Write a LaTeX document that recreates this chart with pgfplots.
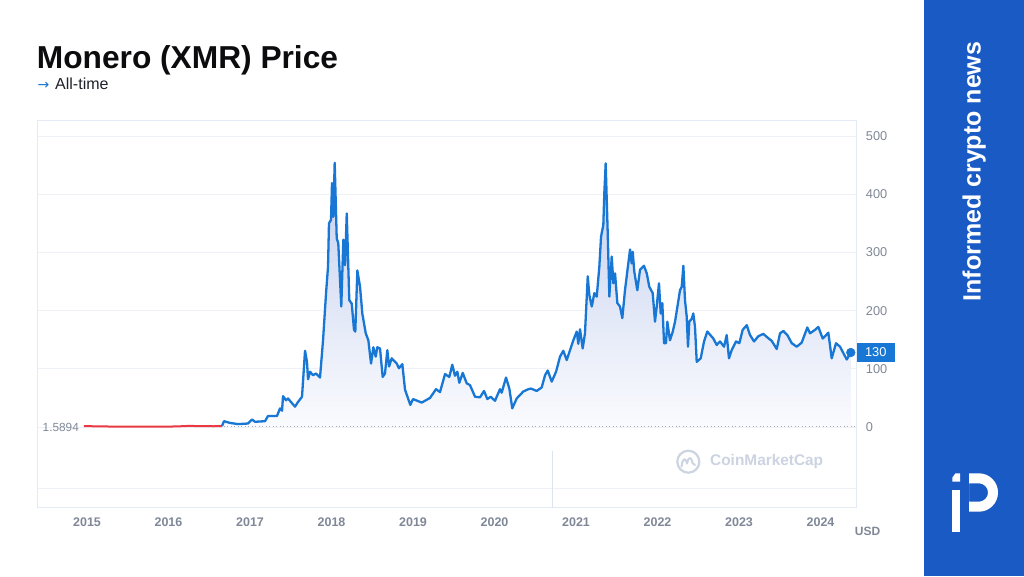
\documentclass[border=0pt]{standalone}
\usepackage{pgfplots}
\pgfplotsset{compat=1.18}
\usepackage{pgfplotstable}
\usepackage{fontspec}
\setmainfont{Liberation Sans}
\newfontfamily\dejavu{DejaVu Sans}
\definecolor{cmcblue}{RGB}{24,119,212}
\definecolor{cmcred}{RGB}{234,57,67}
\definecolor{panelblue}{RGB}{26,90,196}
\definecolor{tickgray}{RGB}{128,136,152}
\definecolor{gridc}{RGB}{238,241,246}
\definecolor{boxc}{RGB}{228,234,243}
\definecolor{wm}{RGB}{204,211,225}
\definecolor{dotc}{RGB}{165,171,184}
\pgfplotstableread{
x y
2014.963 1.59
2015.100 1.2
2015.300 0.8
2015.600 0.6
2015.900 0.5
2016.100 1.0
2016.250 1.9
2016.400 1.5
2016.550 1.3
2016.656 1.6
}\xmrred
\pgfplotstableread{
x y
2016.656 1.6
2016.681 10
2016.755 7
2016.853 5
2016.975 6
2017.025 13
2017.061 9
2017.184 10
2017.221 19
2017.331 19
2017.368 32
2017.393 28
2017.405 53
2017.442 46
2017.466 49
2017.552 35
2017.589 43
2017.638 52
2017.675 131
2017.699 112
2017.712 82
2017.736 95
2017.773 89
2017.810 92
2017.859 85
2017.896 149
2017.933 230
2017.957 275
2017.969 350
2017.994 356
2018.006 419
2018.022 361
2018.039 454
2018.064 324
2018.083 316
2018.120 207
2018.145 322
2018.166 278
2018.187 367
2018.218 218
2018.248 212
2018.276 167
2018.292 164
2018.317 269
2018.350 241
2018.378 195
2018.420 161
2018.452 149
2018.485 109
2018.513 137
2018.542 121
2018.562 137
2018.595 135
2018.628 86
2018.656 92
2018.685 132
2018.706 104
2018.739 118
2018.800 109
2018.828 101
2018.869 108
2018.902 64
2018.967 38
2019.000 48
2019.107 42
2019.209 50
2019.282 65
2019.331 60
2019.393 91
2019.445 86
2019.482 107
2019.515 88
2019.544 95
2019.568 76
2019.610 93
2019.659 75
2019.699 72
2019.761 52
2019.822 51
2019.871 62
2019.912 48
2019.953 52
2020.006 45
2020.067 65
2020.088 59
2020.141 85
2020.182 66
2020.218 32
2020.272 49
2020.353 61
2020.415 65
2020.448 66
2020.518 62
2020.579 68
2020.620 89
2020.653 97
2020.702 78
2020.755 95
2020.804 121
2020.844 131
2020.886 115
2020.967 149
2021.009 164
2021.028 143
2021.049 168
2021.082 135
2021.110 161
2021.144 259
2021.163 227
2021.193 207
2021.225 230
2021.254 224
2021.286 275
2021.307 327
2021.335 347
2021.347 401
2021.364 453
2021.389 333
2021.409 224
2021.438 293
2021.458 247
2021.479 264
2021.507 213
2021.540 207
2021.568 187
2021.601 235
2021.629 267
2021.663 305
2021.683 281
2021.696 301
2021.715 267
2021.752 235
2021.785 270
2021.834 277
2021.868 264
2021.899 241
2021.941 230
2021.969 181
2021.990 207
2022.018 247
2022.039 195
2022.059 213
2022.080 144
2022.104 144
2022.120 181
2022.153 149
2022.187 164
2022.215 181
2022.276 235
2022.297 241
2022.317 277
2022.337 218
2022.358 190
2022.374 138
2022.390 181
2022.420 186
2022.439 195
2022.460 172
2022.481 112
2022.530 118
2022.571 147
2022.611 164
2022.685 152
2022.726 141
2022.767 147
2022.816 138
2022.849 158
2022.877 118
2022.910 132
2022.963 147
2023.004 144
2023.045 167
2023.095 175
2023.135 158
2023.184 147
2023.237 156
2023.298 160
2023.347 154
2023.401 148
2023.463 134
2023.503 161
2023.544 165
2023.593 158
2023.647 144
2023.708 138
2023.769 145
2023.838 171
2023.871 161
2023.933 167
2023.973 172
2024.027 152
2024.096 162
2024.137 118
2024.190 144
2024.239 138
2024.280 127
2024.322 116
2024.371 128
}\xmrblue
\begin{document}
\begin{tikzpicture}[x=1pt,y=1pt]
\useasboundingbox (0,0) rectangle (1024,576);
\fill[white] (0,0) rectangle (1024,576);
\fill[panelblue] (924,0) rectangle (1024,576);
% title
\node[anchor=base west, inner sep=0pt, font=\fontsize{31.7}{36}\selectfont\bfseries, text={rgb,255:red,12;green,12;blue,14}] at (36.7,507.7) {Monero (XMR) Price};
\node[anchor=base west, inner sep=0pt, font=\dejavu\fontsize{14}{16}\selectfont, text=cmcblue] at (37.5,486) {→};
\node[anchor=base west, inner sep=0pt, font=\fontsize{16}{18}\selectfont, text={rgb,255:red,32;green,34;blue,42}] at (55,486) {All-time};
% watermark
\draw[wm, line width=2.2pt] (688.3,114.3) circle (11);
\draw[wm, line width=2pt, line cap=round, line join=round] (681.5,109.5) .. controls (682.5,117) and (685,120) .. (687,112.5) .. controls (688.5,119.5) and (691,120) .. (692.5,113) -- (695,111);
\node[anchor=west, inner sep=0pt, font=\fontsize{15.4}{17}\selectfont\bfseries, text=wm] at (710,114.3) {CoinMarketCap};
\begin{axis}[
  at={(37.7pt,68.5pt)}, anchor=south west,
  scale only axis, width=819pt, height=387.5pt,
  xmin=2014.395, xmax=2024.444, ymin=-138.3, ymax=527.5,
  axis line style={draw=boxc, line width=0.8pt},
  xtick={2015,2016,...,2024}, ytick={0,100,...,500},
  major tick length=0pt,
  ymajorgrids, grid style={draw=gridc, line width=0.8pt},
  yticklabel pos=right,
  /pgf/number format/assume math mode=true,
  /pgf/number format/1000 sep={},
  xticklabel style={font=\fontsize{12.5}{14}\selectfont\bfseries, text=tickgray, anchor=north, inner sep=0pt, yshift=-10.5pt},
  yticklabel style={font=\fontsize{12.8}{14}\selectfont, text=tickgray, anchor=west, inner sep=0pt, xshift=9pt},
  clip=false,
]
\draw[gridc, line width=0.8pt] (axis cs:2014.395,-105) -- (axis cs:2024.444,-105);
\draw[draw={rgb,255:red,220;green,228;blue,239}, line width=0.8pt] (axis cs:2020.714,-42) -- (axis cs:2020.714,-138.3);
\addplot[draw=none, top color={rgb,255:red,196;green,207;blue,238}, bottom color={rgb,255:red,250;green,251;blue,254}] table {\xmrblue} \closedcycle;
\addplot[dotc, line width=0.9pt, dash pattern=on 0.9pt off 2.6pt] coordinates {(2014.963,1.59) (2024.42,1.59)};
\addplot[cmcred, line width=2pt] table {\xmrred};
\addplot[cmcblue, line width=2.3pt, line join=round] table {\xmrblue};
\addplot[only marks, mark=*, mark size=4.4pt, cmcblue] coordinates {(2024.371,128)};
\node[anchor=east, inner sep=0pt, font=\fontsize{11.8}{13}\selectfont, text=tickgray] at (axis cs:2014.902,0) {1.5894};
\node[fill=cmcblue, text=white, anchor=west, minimum width=37.6pt, minimum height=18.4pt, inner sep=0pt, font=\fontsize{12.8}{14}\selectfont] at (axis cs:2024.444,128) {130};
\end{axis}
\node[inner sep=0pt, font=\fontsize{12}{14}\selectfont\bfseries, text=tickgray] at (867.5,44.3) {USD};
% side text and logo
\node[rotate=90, anchor=base west, inner sep=0pt, text=white, font=\fontsize{25}{28}\selectfont\bfseries] at (980.7,274.3) {Informed crypto news};
\fill[white] (952.3,94.3) -- (960,94.3) -- (960,102.7) -- (955.5,102.7) -- (952.3,98.5) -- cycle;
\fill[white] (952.3,44.3) rectangle (960,86);
\fill[white, even odd rule] (969,102.7) -- (978.8,102.7) arc[start angle=90, end angle=-90, radius=19.2] -- (969,64.3) -- cycle
  (969,92.7) -- (978.8,92.7) arc[start angle=90, end angle=-90, radius=9.2] -- (969,74.3) -- cycle;
\end{tikzpicture}
\end{document}
